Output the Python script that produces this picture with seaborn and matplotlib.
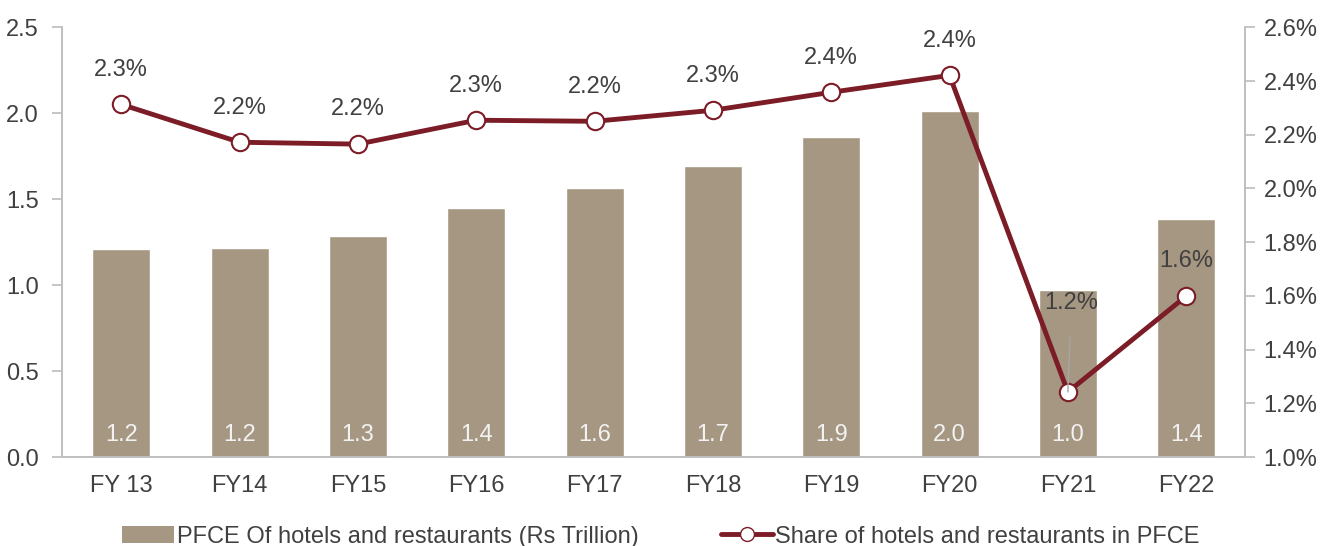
import matplotlib
matplotlib.use("Agg")
import matplotlib.pyplot as plt
import pandas as pd
import seaborn as sns
from matplotlib.ticker import FuncFormatter
from matplotlib.lines import Line2D
from matplotlib.patches import Patch

# Data
years = ["FY 13", "FY14", "FY15", "FY16", "FY17", "FY18", "FY19", "FY20", "FY21", "FY22"]
pfce = [1.21, 1.215, 1.285, 1.448, 1.564, 1.692, 1.86, 2.012, 0.971, 1.384]
bar_labels = ["1.2", "1.2", "1.3", "1.4", "1.6", "1.7", "1.9", "2.0", "1.0", "1.4"]
share = [2.313, 2.172, 2.165, 2.254, 2.25, 2.291, 2.358, 2.421, 1.242, 1.599]
share_labels = ["2.3%", "2.2%", "2.2%", "2.3%", "2.2%", "2.3%", "2.4%", "2.4%", "1.2%", "1.6%"]

bar_color = "#A69782"
line_color = "#7B1C27"
text_color = "#404040"
spine_color = "#BFBFBF"
fs = 17

sns.set_theme(style="white")
plt.rcParams["font.family"] = ["Liberation Sans", "DejaVu Sans"]

df = pd.DataFrame({"year": years, "pfce": pfce, "share": share})

fig, ax = plt.subplots(figsize=(13.22, 5.46), dpi=100)
fig.subplots_adjust(left=0.047, right=0.942, top=0.95, bottom=0.163)

sns.barplot(data=df, x="year", y="pfce", color=bar_color, width=0.49,
            saturation=1, ax=ax, zorder=1)
ax.set_ylim(0, 2.5)
ax.set_xlim(-0.5, 9.5)
ax.set_yticks([0, 0.5, 1.0, 1.5, 2.0, 2.5])
ax.yaxis.set_major_formatter(FuncFormatter(lambda v, p: f"{v:.1f}"))
ax.set_xlabel("")
ax.set_ylabel("")

for i, lab in enumerate(bar_labels):
    ax.text(i, 0.13, lab, ha="center", va="center", color="#F2F2F2", fontsize=fs)

ax2 = ax.twinx()
ax2.plot(range(len(years)), share, color=line_color, linewidth=3.5,
         marker="o", markersize=12.5, markerfacecolor="white",
         markeredgecolor=line_color, markeredgewidth=1.5, zorder=3)
ax2.set_ylim(1.0, 2.6)
ax2.set_yticks([1.0, 1.2, 1.4, 1.6, 1.8, 2.0, 2.2, 2.4, 2.6])
ax2.yaxis.set_major_formatter(FuncFormatter(lambda v, p: f"{v:.1f}%"))

for i, (v, lab) in enumerate(zip(share, share_labels)):
    if i == 8:
        ax2.annotate(lab, xy=(i, v), xytext=(i + 0.03, v + 0.33), ha="center",
                     va="center", color=text_color, fontsize=fs,
                     arrowprops=dict(arrowstyle="-", color="#A6A6A6", lw=1,
                                     shrinkA=14, shrinkB=0))
    else:
        ax2.annotate(lab, xy=(i, v), xytext=(0, 25), textcoords="offset points",
                     ha="center", va="center", color=text_color, fontsize=fs)

for a in (ax, ax2):
    for s in a.spines.values():
        s.set_color(spine_color)
    a.spines["top"].set_visible(False)
    a.tick_params(colors=text_color, labelsize=fs)
    a.tick_params(axis="y", length=7, color=spine_color, direction="out")
ax.tick_params(axis="x", length=0, pad=13)
ax.tick_params(axis="y", labelleft=True, left=True, pad=10)
ax2.tick_params(axis="y", pad=6)

handles = [
    Patch(facecolor=bar_color, edgecolor="none", label="PFCE Of hotels and restaurants (Rs Trillion)"),
    Line2D([0], [0], color=line_color, linewidth=3.5, marker="o", markersize=10,
           markerfacecolor="white", markeredgecolor=line_color,
           label="Share of hotels and restaurants in PFCE"),
]
fig.legend(handles=handles, loc="lower center", ncol=2, frameon=False,
           fontsize=fs, bbox_to_anchor=(0.5, -0.042), handlelength=2.2,
           handletextpad=0.1, columnspacing=3.5, labelcolor=text_color)

fig.savefig("out.png", dpi=100)
